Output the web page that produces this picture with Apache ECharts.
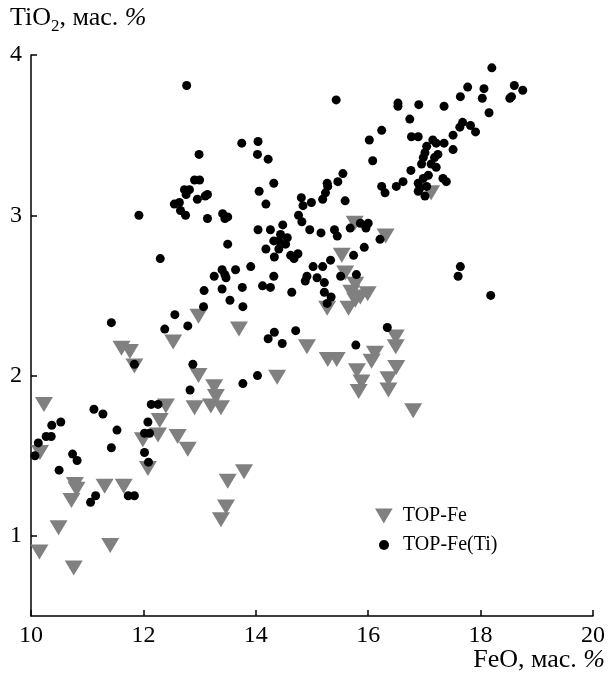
<!DOCTYPE html>
<html>
<head>
<meta charset="utf-8">
<script src="https://cdn.jsdelivr.net/npm/echarts@6/dist/echarts.min.js"></script>
<style>html,body{margin:0;padding:0;background:#fff;}#c{width:608px;height:674px;}</style>
</head>
<body>
<div id="c"></div>
<script>
var xTicks = [10, 12, 14, 16, 18, 20];
var yTicks = [1, 2, 3, 4];

var topFe = [
  [17.12,3.14],[16.31,2.87],[15.76,2.95],[15.53,2.75],[15.59,2.64],[15.77,2.57],[15.70,2.52],
  [15.99,2.51],[15.86,2.49],[15.65,2.42],[15.27,2.42],[15.77,2.47],[14.91,2.18],[15.28,2.10],
  [15.44,2.10],[16.12,2.14],[16.06,2.09],[16.49,2.24],[16.49,2.18],[15.80,2.03],[15.88,1.96],
  [15.83,1.90],[16.50,2.05],[16.36,1.98],[16.36,1.91],[16.80,1.78],[12.98,2.37],[13.70,2.29],
  [12.53,2.21],[11.61,2.17],[11.76,2.15],[11.84,2.06],[12.98,2.00],[13.26,1.93],[13.29,1.87],
  [14.38,1.99],[13.20,1.81],[13.38,1.80],[12.91,1.80],[10.23,1.82],[10.16,1.52],[10.78,1.32],
  [10.81,1.29],[10.72,1.22],[11.31,1.31],[11.65,1.31],[10.49,1.05],[10.15,0.90],[11.41,0.94],
  [10.76,0.80],[12.40,1.81],[12.29,1.72],[12.26,1.63],[11.99,1.60],[12.61,1.62],[12.79,1.54],
  [12.08,1.42],[13.79,1.40],[13.50,1.34],[13.47,1.18],[13.38,1.10]
];

var topFeTi = [
  [18.20,3.92],[17.77,3.80],[18.06,3.79],[18.60,3.81],[18.75,3.78],[18.52,3.73],[18.55,3.74],
  [17.64,3.74],[18.03,3.73],[16.53,3.70],[16.53,3.68],[16.90,3.69],[17.35,3.68],[18.15,3.64],
  [16.74,3.60],[16.24,3.53],[17.68,3.58],[17.63,3.55],[17.82,3.56],[17.91,3.52],[16.77,3.49],
  [16.89,3.49],[17.51,3.50],[17.15,3.47],[17.21,3.45],[17.35,3.45],[17.04,3.43],[17.51,3.41],
  [17.01,3.39],[17.24,3.38],[16.98,3.36],[17.18,3.36],[16.95,3.32],[17.12,3.32],[17.21,3.30],
  [16.76,3.28],[17.07,3.25],[16.98,3.23],[16.62,3.21],[17.33,3.23],[17.39,3.21],[16.50,3.18],
  [16.89,3.20],[16.92,3.17],[17.04,3.18],[16.89,3.15],[17.01,3.12],[16.24,3.18],[16.30,3.14],
  [16.21,2.85],[17.64,2.68],[17.60,2.62],[18.18,2.50],
  [16.08,3.34],[15.55,3.26],[15.46,3.21],[15.27,3.20],[15.28,3.18],[15.24,3.14],[15.19,3.10],
  [15.59,3.09],[14.81,3.11],[14.84,3.06],[14.99,3.08],[14.76,3.00],[14.82,2.96],[14.96,2.91],
  [15.16,2.89],[15.40,2.91],[15.45,2.87],[15.68,2.92],[15.86,2.95],[16.00,2.95],[15.96,2.92],
  [15.93,2.80],[15.74,2.75],[15.33,2.72],[15.19,2.68],[15.02,2.68],[14.91,2.62],[14.88,2.59],
  [15.09,2.61],[15.22,2.58],[15.51,2.62],[15.79,2.63],[15.22,2.52],[15.34,2.49],[15.27,2.45],
  [14.64,2.52],[14.44,2.88],[14.48,2.94],[14.41,2.84],[14.56,2.86],[14.53,2.82],[14.41,2.79],
  [14.62,2.75],[14.75,2.76],[14.68,2.73],[14.71,2.28],[14.47,2.20],[15.78,2.19],[16.34,2.30],
  [12.99,3.38],[14.03,3.38],[14.22,3.35],[14.32,3.20],[14.06,3.15],[14.18,3.07],[12.91,3.22],
  [13.00,3.22],[12.73,3.16],[12.82,3.16],[12.76,3.13],[12.96,3.10],[13.14,3.13],[13.10,3.12],
  [12.55,3.07],[12.64,3.08],[12.66,3.03],[12.75,3.00],[11.92,3.00],[13.14,2.98],[13.41,3.01],
  [13.50,2.99],[13.45,2.98],[14.04,2.91],[14.26,2.91],[14.32,2.84],[14.18,2.79],[14.33,2.74],
  [13.50,2.82],[12.30,2.73],[13.26,2.62],[13.40,2.66],[13.45,2.63],[13.47,2.61],[13.64,2.66],
  [13.91,2.68],[14.32,2.62],[14.12,2.56],[14.26,2.55],[13.08,2.53],[13.40,2.54],[13.76,2.55],
  [13.54,2.47],[13.77,2.43],[13.07,2.43],[12.56,2.38],[12.79,2.31],[12.38,2.29],[11.43,2.33],
  [14.33,2.27],[14.22,2.23],[11.84,2.07],[12.88,2.07],[14.03,2.00],[13.77,1.95],[12.83,1.91],
  [12.77,3.81],[15.43,3.72],[13.75,3.45],[14.04,3.46],[16.02,3.47],
  [11.12,1.79],[11.28,1.76],[10.37,1.69],[10.53,1.71],[10.27,1.62],[10.36,1.62],[10.13,1.58],
  [10.07,1.50],[11.53,1.66],[11.43,1.55],[10.74,1.51],[10.82,1.47],[10.50,1.41],[11.06,1.21],
  [11.15,1.25],[11.73,1.25],[11.84,1.25],[12.14,1.82],[12.26,1.82],[12.08,1.71],[12.02,1.64],
  [12.11,1.64],[12.02,1.52],[12.09,1.46]
];

var FONT = '"Liberation Serif", "Times New Roman", serif';
var chart = echarts.init(document.getElementById('c'), null, {renderer: 'canvas'});
chart.setOption({
  animation: false,
  backgroundColor: '#fff',
  grid: {left: 31, right: 15, top: 55, bottom: 58, containLabel: false},
  xAxis: {
    type: 'value', min: 10, max: 20, interval: 2,
    splitLine: {show: false},
    axisLine: {onZero: false, lineStyle: {color: '#000', width: 1.5}},
    axisTick: {inside: true, length: 6, lineStyle: {color: '#000', width: 1.5}, customValues: xTicks},
    axisLabel: {color: '#000', fontFamily: FONT, fontSize: 24, margin: 8, customValues: xTicks}
  },
  yAxis: {
    type: 'value', min: 0.5, max: 4,
    splitLine: {show: false},
    axisLine: {onZero: false, lineStyle: {color: '#000', width: 1.5}},
    axisTick: {inside: true, length: 6, lineStyle: {color: '#000', width: 1.5}, customValues: yTicks},
    axisLabel: {color: '#000', fontFamily: FONT, fontSize: 24, margin: 9, customValues: yTicks}
  },
  legend: [
    {data: [{name: 'TOP-Fe', icon: 'path://M0,0L20,0L10,17Z'}], orient: 'vertical', left: 375, top: 506,
     padding: 0, itemWidth: 18, itemHeight: 15,
     textStyle: {color: '#000', fontFamily: FONT, fontSize: 20, padding: [0, 0, 0, 5]}},
    {data: ['TOP-Fe(Ti)'], orient: 'vertical', left: 379, top: 535, padding: 0, itemWidth: 10, itemHeight: 10,
     textStyle: {color: '#000', fontFamily: FONT, fontSize: 20, padding: [0, 0, 0, 9]}}
  ],
  graphic: [
    {type: 'text', left: 10, top: 5, style: {
      text: '{a|TiO}{s|2}{a|, мас. }{i|%}',
      rich: {
        a: {fontFamily: FONT, fontSize: 26, fill: '#000', verticalAlign: 'top', lineHeight: 30},
        s: {fontFamily: FONT, fontSize: 17, fill: '#000', verticalAlign: 'top', lineHeight: 30, padding: [13, 0, 0, 0]},
        i: {fontFamily: FONT, fontSize: 26, fontStyle: 'italic', fill: '#000', verticalAlign: 'top', lineHeight: 30}
      }
    }},
    {type: 'text', right: 3, top: 647, style: {
      text: '{a|FeO, мас. }{i|%}',
      rich: {
        a: {fontFamily: FONT, fontSize: 26, fill: '#000'},
        i: {fontFamily: FONT, fontSize: 26, fontStyle: 'italic', fill: '#000'}
      }
    }}
  ],
  series: [
    {name: 'TOP-Fe', type: 'scatter', data: topFe, symbol: 'triangle', symbolRotate: 180,
     symbolSize: [18, 15], itemStyle: {color: '#808080', opacity: 1}, z: 2},
    {name: 'TOP-Fe(Ti)', type: 'scatter', data: topFeTi, symbol: 'circle', symbolSize: 9,
     itemStyle: {color: '#000', opacity: 1}, z: 3}
  ]
});
</script>
</body>
</html>
